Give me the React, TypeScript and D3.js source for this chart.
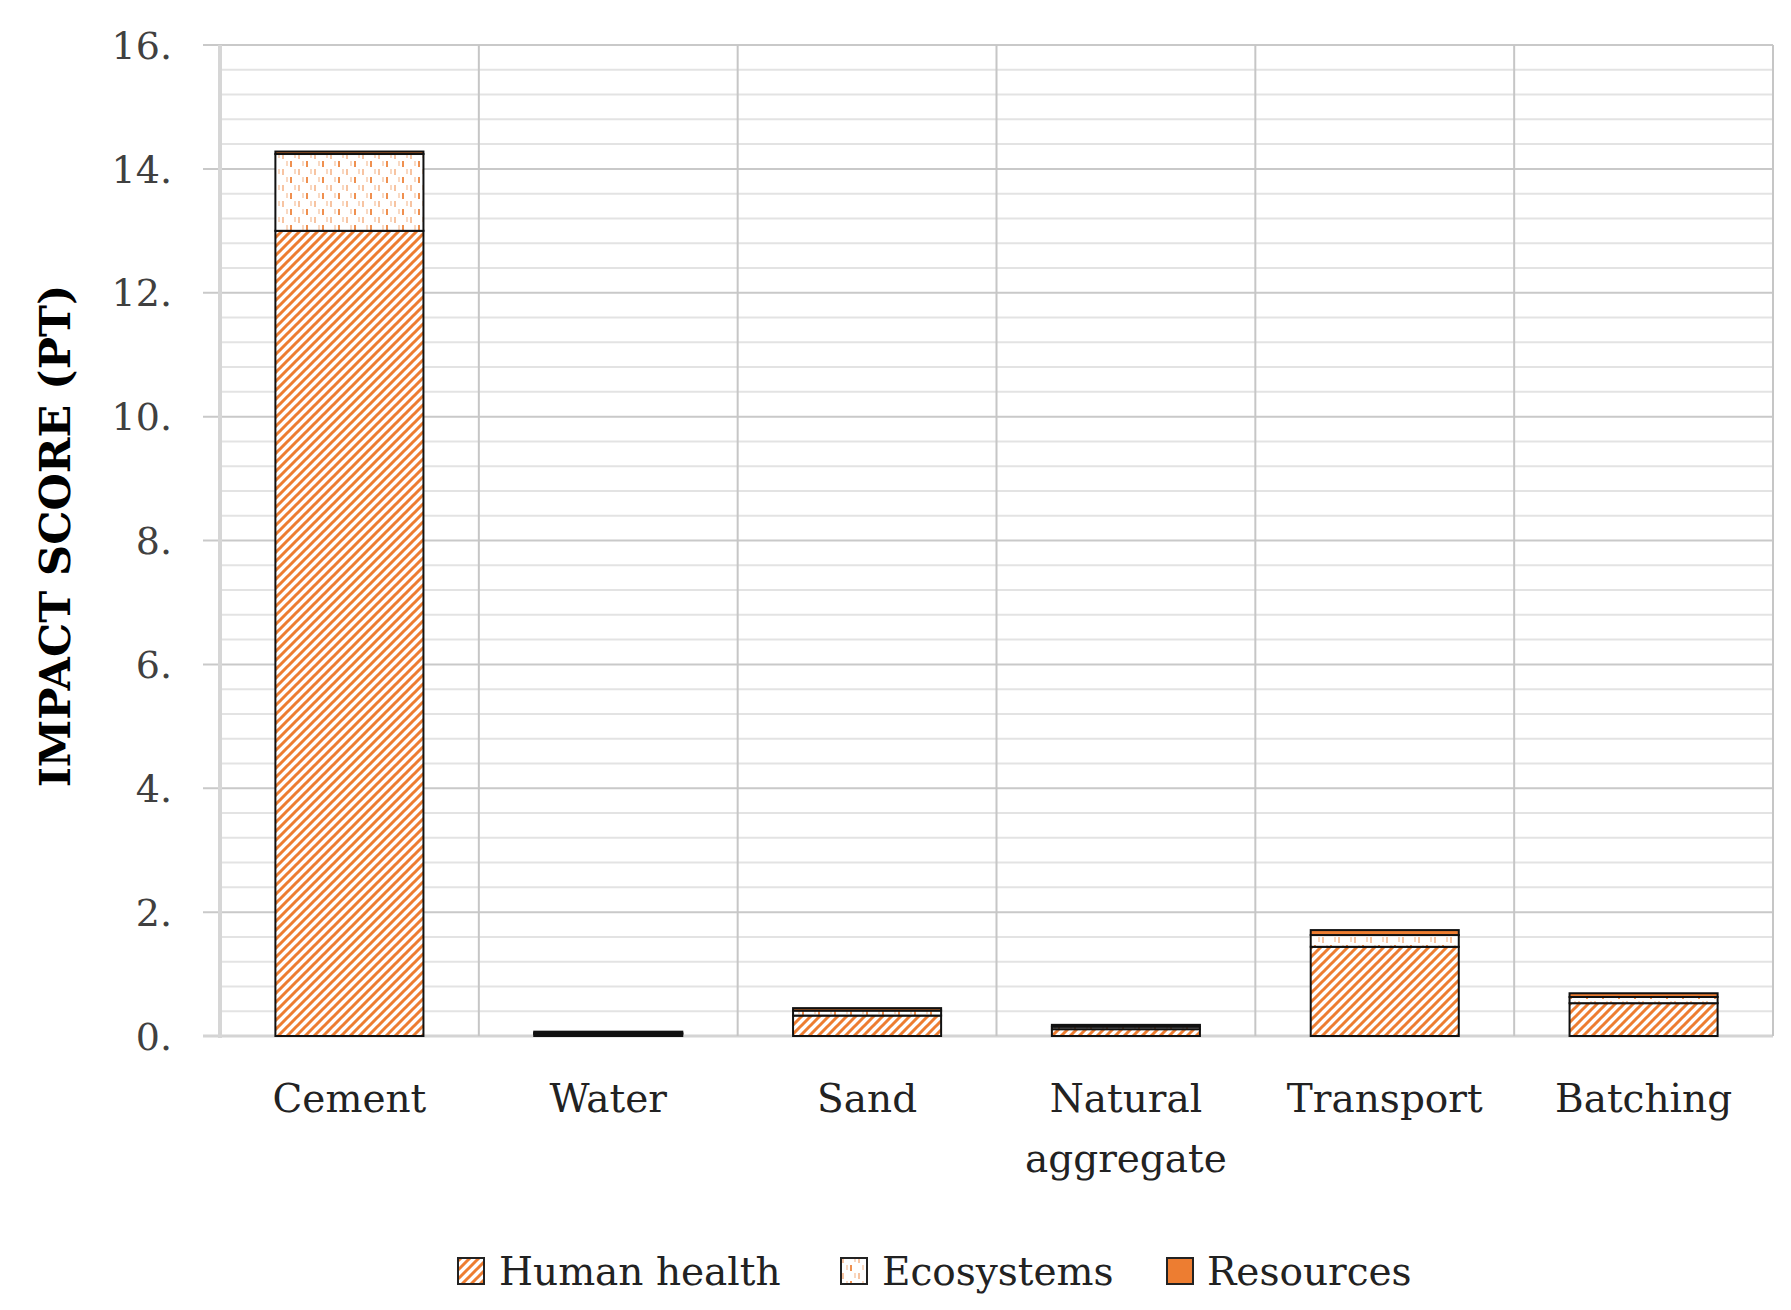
import React from "react";
import * as d3 from "d3";

const categories = ["Cement", "Water", "Sand", "Natural\naggregate", "Transport", "Batching"];
const seriesNames = ["Human health", "Ecosystems", "Resources"];
const humanHealth = [13.0, 0.03, 0.33, 0.11, 1.44, 0.53];
const ecosystems = [1.24, 0.02, 0.08, 0.04, 0.19, 0.1];
const resources = [0.04, 0.02, 0.04, 0.03, 0.08, 0.06];
const yTicks = [0, 2, 4, 6, 8, 10, 12, 14, 16];
const yTickLabels = ["0.", "2.", "4.", "6.", "8.", "10.", "12.", "14.", "16."];
const yTitle = "IMPACT SCORE (PT)";

const W = 1791;
const H = 1310;
const ORANGE = "#ED7D31";
const FONT = "'DejaVu Serif', serif";

export default function App() {
  const x = d3.scaleBand<string>().domain(categories).range([220, 1773]).padding(0);
  const y = d3.scaleLinear().domain([0, 16]).range([1036, 45]);
  const barW = x.bandwidth() * 0.572;

  const data = categories.map((c, i) => ({
    cat: c,
    "Human health": humanHealth[i],
    Ecosystems: ecosystems[i],
    Resources: resources[i],
  }));
  const stack = d3.stack<any>().keys(seriesNames)(data);
  const fills = ["url(#hh)", "url(#eco)", ORANGE];

  const minor = d3.range(0, 16.001, 0.4).filter((v) => Math.abs(v / 2 - Math.round(v / 2)) > 1e-6);

  const legendItems = [
    { name: seriesNames[0], fill: fills[0], bx: 458, tx: 499 },
    { name: seriesNames[1], fill: fills[1], bx: 841, tx: 882 },
    { name: seriesNames[2], fill: fills[2], bx: 1167, tx: 1207 },
  ];

  return (
    <svg
      width={W}
      height={H}
      style={{ position: "absolute", left: 0, top: 0, background: "#fff" }}
    >
      <defs>
        <pattern id="hh" patternUnits="userSpaceOnUse" width="9" height="9">
          <rect width="9" height="9" fill="#fff" />
          <path d="M-2,2 L2,-2 M0,9 L9,0 M7,11 L11,7" stroke={ORANGE} strokeWidth="3" />
        </pattern>
        <pattern id="eco" patternUnits="userSpaceOnUse" width="16" height="16">
          <rect width="16" height="16" fill="#fff" />
          <rect x="2" y="1" width="2" height="6" fill={ORANGE} opacity="0.85" />
          <rect x="10" y="9" width="2" height="6" fill={ORANGE} opacity="0.45" />
          <rect x="6" y="9" width="2" height="5" fill={ORANGE} opacity="0.3" />
          <rect x="14" y="1" width="2" height="5" fill={ORANGE} opacity="0.3" />
        </pattern>
      </defs>

      {/* minor gridlines */}
      {minor.map((v) => (
        <line key={"m" + v} x1={220} x2={1773} y1={y(v)} y2={y(v)} stroke="#E3E3E3" strokeWidth={2} />
      ))}
      {/* major gridlines */}
      {yTicks.map((v) => (
        <line key={"M" + v} x1={203} x2={1773} y1={y(v)} y2={y(v)} stroke={v === 0 ? "#D4D4D4" : "#C9C9C9"} strokeWidth={v === 0 ? 3 : 2} />
      ))}
      {/* vertical category lines */}
      {categories.map((c, i) => (
        <line key={"v" + i} x1={(x(c) as number) + x.bandwidth()} x2={(x(c) as number) + x.bandwidth()} y1={45} y2={1036} stroke="#C6C6C6" strokeWidth={2} />
      ))}
      <line x1={220} x2={220} y1={45} y2={1038} stroke="#D6D6D6" strokeWidth={4} />

      {/* bars */}
      {stack.map((s, si) =>
        s.map((d, i) => {
          const cx = (x(categories[i]) as number) + x.bandwidth() / 2;
          return (
            <rect
              key={si + "-" + i}
              x={cx - barW / 2}
              y={y(d[1])}
              width={barW}
              height={Math.max(0, y(d[0]) - y(d[1]))}
              fill={fills[si]}
              stroke="#111"
              strokeWidth={2}
            />
          );
        })
      )}

      {/* y tick labels */}
      {yTicks.map((v, i) => (
        <text key={"t" + v} x={172} y={y(v)} dy="0.36em" textAnchor="end" fontFamily={FONT} fontSize={38} fill="#404040">
          {yTickLabels[i]}
        </text>
      ))}

      {/* y title */}
      <text
        transform={`translate(70,536) rotate(-90)`}
        textAnchor="middle"
        fontFamily={FONT}
        fontWeight="bold"
        fontSize={43}
        fill="#000"
      >
        {yTitle}
      </text>

      {/* x labels */}
      {categories.map((c) => {
        const cx = (x(c) as number) + x.bandwidth() / 2;
        return (
          <text key={"x" + c} textAnchor="middle" fontFamily={FONT} fontSize={39} fill="#222">
            {c.split("\n").map((line, li) => (
              <tspan key={li} x={cx} y={1112 + li * 60}>
                {line}
              </tspan>
            ))}
          </text>
        );
      })}

      {/* legend */}
      {legendItems.map((l) => (
        <g key={l.name}>
          <rect x={l.bx} y={1258} width={26} height={26} fill={l.fill} stroke="#222" strokeWidth={2} />
          <text x={l.tx} y={1271} dy="0.36em" fontFamily={FONT} fontSize={39} fill="#222">
            {l.name}
          </text>
        </g>
      ))}
    </svg>
  );
}
